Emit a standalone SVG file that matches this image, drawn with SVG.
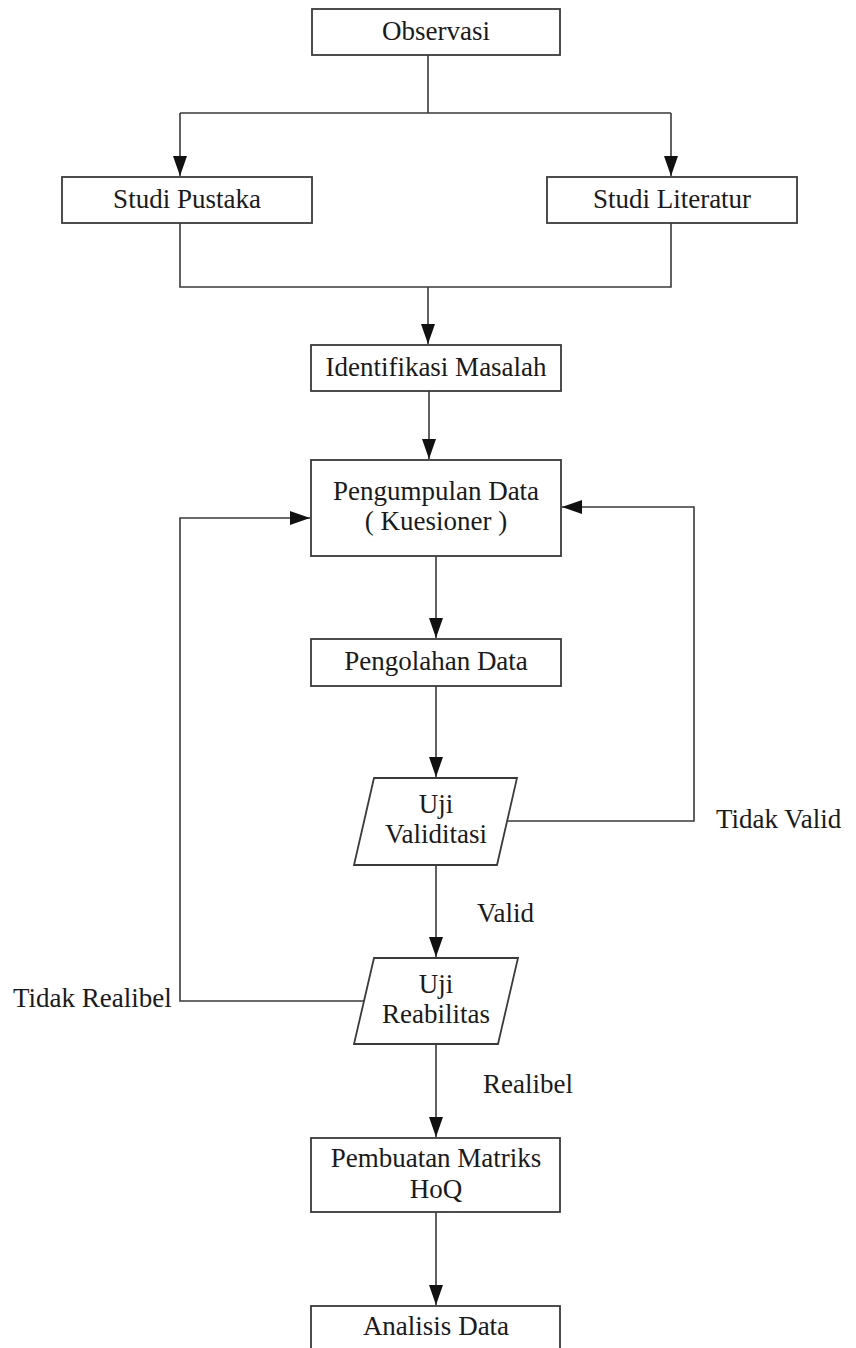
<svg xmlns="http://www.w3.org/2000/svg" width="856" height="1348" viewBox="0 0 856 1348">
<style>
.box{fill:#fff;stroke:#3a3a3a;stroke-width:1.8}
.ln{fill:none;stroke:#3a3a3a;stroke-width:1.6}
text{font-family:"Liberation Serif","Times New Roman",serif;font-size:27px;fill:#1a1a1a}
.c{text-anchor:middle}
</style>
<defs>
<marker id="ah" viewBox="0 0 20 14" refX="20" refY="7" markerWidth="20" markerHeight="14" markerUnits="userSpaceOnUse" orient="auto">
<path d="M0,0 L20,7 L0,14 Z" fill="#111"/>
</marker>
</defs>
<rect width="856" height="1348" fill="#fff"/>
<g id="connectors">
<path class="ln" d="M428,55 V113 M180,113 H671"/>
<path class="ln" d="M180,113 V176" marker-end="url(#ah)"/>
<path class="ln" d="M671,113 V176" marker-end="url(#ah)"/>
<path class="ln" d="M180,223 V287 H671 V223"/>
<path class="ln" d="M428,287 V344" marker-end="url(#ah)"/>
<path class="ln" d="M429,391 V459" marker-end="url(#ah)"/>
<path class="ln" d="M436,556 V638" marker-end="url(#ah)"/>
<path class="ln" d="M436,686 V777" marker-end="url(#ah)"/>
<path class="ln" d="M507,821 H694 V507 H562" marker-end="url(#ah)"/>
<path class="ln" d="M436,865 V957" marker-end="url(#ah)"/>
<path class="ln" d="M364,1001 H180 V518 H310" marker-end="url(#ah)"/>
<path class="ln" d="M436,1044 V1137" marker-end="url(#ah)"/>
<path class="ln" d="M436,1212 V1305" marker-end="url(#ah)"/>
</g>
<g id="observasi"><rect class="box" x="312" y="9" width="248" height="46"/><text class="c" x="436" y="40">Observasi</text></g>
<g id="studi-pustaka"><rect class="box" x="62" y="177" width="250" height="46"/><text class="c" x="187" y="208">Studi Pustaka</text></g>
<g id="studi-literatur"><rect class="box" x="547" y="177" width="250" height="46"/><text class="c" x="672" y="208">Studi Literatur</text></g>
<g id="identifikasi"><rect class="box" x="311" y="345" width="250" height="46"/><text class="c" x="436" y="376">Identifikasi Masalah</text></g>
<g id="pengumpulan"><rect class="box" x="311" y="460" width="250" height="96"/><text class="c" x="436" y="500">Pengumpulan Data</text><text class="c" x="436" y="530">( Kuesioner )</text></g>
<g id="pengolahan"><rect class="box" x="311" y="639" width="250" height="47"/><text class="c" x="436" y="670">Pengolahan Data</text></g>
<g id="uji-validitasi"><path class="box" d="M374,778 H517 L497,865 H354 Z"/><text class="c" x="436" y="813">Uji</text><text class="c" x="436" y="843">Validitasi</text></g>
<g id="uji-reabilitas"><path class="box" d="M374,958 H518 L498,1044 H354 Z"/><text class="c" x="436" y="993">Uji</text><text class="c" x="436" y="1023">Reabilitas</text></g>
<g id="pembuatan"><rect class="box" x="311" y="1138" width="249" height="74"/><text class="c" x="436" y="1167">Pembuatan Matriks</text><text class="c" x="436" y="1198">HoQ</text></g>
<g id="analisis"><rect class="box" x="311" y="1306" width="249" height="60"/><text class="c" x="436" y="1335">Analisis Data</text></g>
<g id="labels">
<text x="716" y="828">Tidak Valid</text>
<text x="477" y="922">Valid</text>
<text x="13" y="1007">Tidak Realibel</text>
<text x="483" y="1093">Realibel</text>
</g>
</svg>
